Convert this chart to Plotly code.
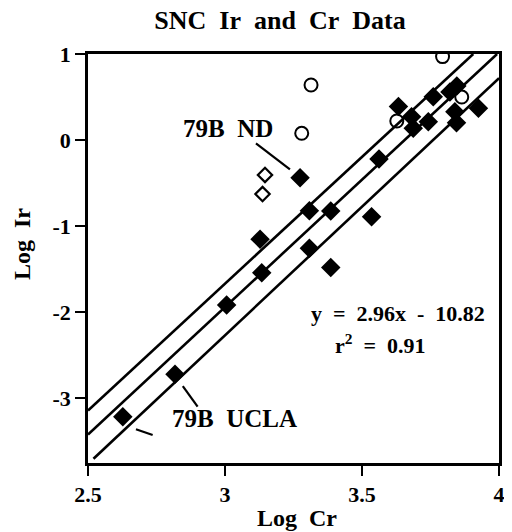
import plotly.graph_objects as go

NB = "\u00a0"
FONT = "Liberation Serif, Times New Roman, serif"

# Filled diamonds (SNC data)
filled_x = [3.274, 3.308, 3.386, 3.535, 3.128, 3.134, 3.308, 3.386, 3.006, 2.8175, 2.627,
            3.562, 3.633, 3.681, 3.687, 3.742, 3.760, 3.846, 3.821, 3.839, 3.845, 3.925]
filled_y = [-0.437, -0.82, -0.824, -0.89, -1.15, -1.54, -1.257, -1.48, -1.915, -2.72, -3.212,
            -0.22, 0.39, 0.272, 0.137, 0.214, 0.504, 0.628, 0.56, 0.33, 0.202, 0.369]

# Open circles
circ_x = [3.794, 3.314, 3.280, 3.864, 3.627]
circ_y = [0.97, 0.64, 0.079, 0.50, 0.222]

# Open diamonds
odia_x = [3.146, 3.137]
odia_y = [-0.405, -0.626]

# Regression line and bounding lines (endpoints)
mid_x = [2.5, 3.993]
mid_y = [-3.42, 1.0]
up_x = [2.5, 3.906]
up_y = [-3.14, 1.0]
lo_x = [2.52, 4.0]
lo_y = [-3.70, 0.72]

fig = go.Figure()
for lx, ly in [(up_x, up_y), (mid_x, mid_y), (lo_x, lo_y)]:
    fig.add_trace(go.Scatter(x=lx, y=ly, mode="lines",
                             line=dict(color="black", width=2.6), showlegend=False,
                             hoverinfo="skip"))

fig.add_trace(go.Scatter(x=filled_x, y=filled_y, mode="markers",
                         marker=dict(symbol="diamond", size=15, color="black",
                                     line=dict(color="black", width=0)),
                         showlegend=False))
fig.add_trace(go.Scatter(x=circ_x, y=circ_y, mode="markers",
                         marker=dict(symbol="circle-open", size=13, color="black",
                                     line=dict(color="black", width=2)),
                         showlegend=False))
fig.add_trace(go.Scatter(x=odia_x, y=odia_y, mode="markers",
                         marker=dict(symbol="diamond-open", size=11, color="black",
                                     line=dict(color="black", width=2.2)),
                         showlegend=False))

# leader lines
leaders = [
    (3.113, -0.037, 3.237, -0.339),
    (2.675, -3.359, 2.736, -3.425),
    (2.846, -2.856, 2.900, -3.096),
]
for x0, y0, x1, y1 in leaders:
    fig.add_shape(type="line", x0=x0, y0=y0, x1=x1, y1=y1, xref="x", yref="y",
                  line=dict(color="black", width=2.2))

def ann(text, x, y, size, xanchor="left"):
    fig.add_annotation(text=text, x=x, y=y, xref="x", yref="y", showarrow=False,
                       xanchor=xanchor, yanchor="middle",
                       font=dict(family=FONT, size=size, color="black"))

ann("<b>79B" + NB * 2 + "ND</b>", 2.840, 0.13, 25)
ann("<b>79B" + NB * 2 + "UCLA</b>", 2.800, -3.23, 25)
ann("<b>y" + NB * 2 + "=" + NB * 2 + "2.96x" + NB * 2 + "-" + NB * 2 + "10.82</b>", 3.631, -2.01, 22, "center")
ann("<b>r<sup>2</sup>" + NB * 2 + "=" + NB * 2 + "0.91</b>", 3.566, -2.37, 22, "center")

axis_common = dict(
    showgrid=False, zeroline=False, showline=True, linecolor="black", linewidth=2.6,
    mirror=True, ticks="outside", ticklen=10, tickwidth=2.4, tickcolor="black",
    tickfont=dict(family=FONT, size=22, color="black"), automargin=False,
)

fig.update_xaxes(range=[2.5, 4.0], tickvals=[2.5, 3, 3.5, 4], ticktext=["<b>2.5</b>", "<b>3</b>", "<b>3.5</b>", "<b>4</b>"],
                 **axis_common)
fig.update_yaxes(range=[-3.75, 1.0], tickvals=[1, 0, -1, -2, -3], ticktext=["<b>1</b>", "<b>0</b>", "<b>-1</b>", "<b>-2</b>", "<b>-3</b>"],
                 **axis_common)

# axis titles as paper annotations
fig.add_annotation(text="<b>Log" + NB * 2 + "Cr</b>", x=(297 - 88) / 411, y=-(518 - 463) / 409,
                   xref="paper", yref="paper", showarrow=False, xanchor="center", yanchor="middle",
                   font=dict(family=FONT, size=24, color="black"))
fig.add_annotation(text="<b>Log" + NB * 2 + "Ir</b>", x=-(88 - 22) / 411, y=(463 - 244) / 409,
                   xref="paper", yref="paper", showarrow=False, xanchor="center", yanchor="middle",
                   textangle=-90, font=dict(family=FONT, size=24, color="black"))

# page has an 8px body margin: size figure so the plot area lands where the reference has it
fig.update_layout(
    width=504, height=524,
    margin=dict(l=80, r=13, t=46, b=69, autoexpand=False),
    paper_bgcolor="white", plot_bgcolor="white",
    title=dict(text="<b>SNC" + NB * 2 + "Ir" + NB * 2 + "and" + NB * 2 + "Cr" + NB * 2 + "Data</b>",
               x=272 / 504, xanchor="center", xref="container",
               y=1 - 12 / 524, yanchor="middle", yref="container",
               font=dict(family=FONT, size=26, color="black")),
)

fig.write_html("out.html")
